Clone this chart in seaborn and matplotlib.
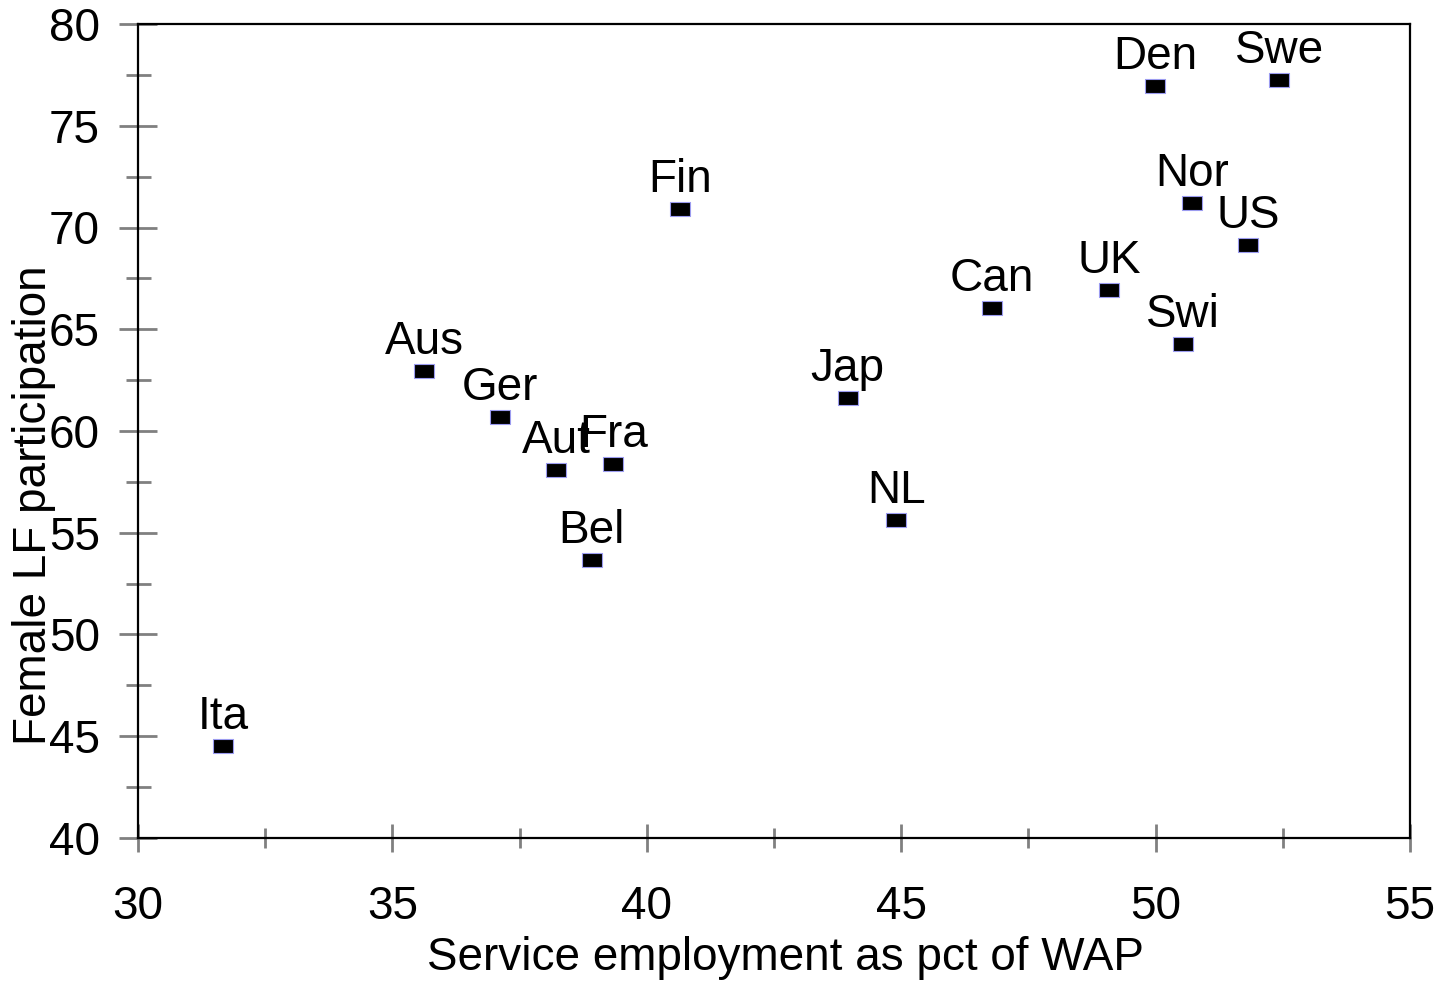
import matplotlib
matplotlib.use("Agg")
from matplotlib import pyplot as plt
from matplotlib.ticker import MultipleLocator
import pandas as pd
import seaborn as sns

# country codes and values
countries = ["Ita", "Aus", "Ger", "Aut", "Fra", "Bel", "Fin", "Jap", "NL",
             "Can", "UK", "Swi", "Den", "Swe", "Nor", "US"]
service_emp = [31.67, 35.62, 37.11, 38.22, 39.34, 38.92, 40.65, 43.95, 44.90,
               46.78, 49.08, 50.54, 49.99, 52.43, 50.72, 51.82]
female_lf = [44.52, 62.95, 60.69, 58.08, 58.38, 53.66, 70.91, 61.62, 55.63,
             66.04, 66.93, 64.28, 76.95, 77.25, 71.20, 69.14]

df = pd.DataFrame({"country": countries, "x": service_emp, "y": female_lf})

sns.set_style("white")
plt.rcParams["font.family"] = ["Liberation Sans", "DejaVu Sans"]
plt.rcParams["text.color"] = "black"
plt.rcParams["xtick.labelcolor"] = "black"
plt.rcParams["ytick.labelcolor"] = "black"
plt.rcParams["axes.labelcolor"] = "black"

fs = 33

fig = plt.figure(figsize=(14.5, 9.85), dpi=100)
ax = fig.add_axes([138 / 1450, 1 - 838 / 985, 1272 / 1450, 814 / 985])

rect = [(-1, -0.76), (1, -0.76), (1, 0.76), (-1, 0.76), (-1, -0.76)]
sns.scatterplot(data=df, x="x", y="y", ax=ax, marker=rect, s=200,
                color="black", edgecolor="#9c9cf0", linewidth=0.8, zorder=3)

for _, r in df.iterrows():
    ax.annotate(r["country"], (r["x"], r["y"]), xytext=(0, 12),
                textcoords="offset points", ha="center", va="baseline",
                fontsize=fs, color="black")

ax.set_xlim(30, 55)
ax.set_ylim(40, 80)
ax.xaxis.set_major_locator(MultipleLocator(5))
ax.xaxis.set_minor_locator(MultipleLocator(2.5))
ax.yaxis.set_major_locator(MultipleLocator(5))
ax.yaxis.set_minor_locator(MultipleLocator(2.5))

ax.tick_params(axis="y", which="major", direction="inout", length=27, width=2,
               color="#808080", labelsize=fs, pad=14, left=True)
ax.tick_params(axis="y", which="minor", direction="inout", length=18, width=2,
               color="#808080", left=True)
ax.tick_params(axis="x", which="major", direction="inout", length=20, width=2,
               color="#808080", labelsize=fs, pad=24, bottom=True)
ax.tick_params(axis="x", which="minor", direction="inout", length=14, width=2,
               color="#808080", bottom=True)

for sp in ax.spines.values():
    sp.set_color("black")
    sp.set_linewidth(1.6)

ax.set_xlabel("Service employment as pct of WAP", fontsize=fs, va="center")
ax.set_ylabel("Female LF participation", fontsize=fs, va="center", ha="center")
ax.xaxis.set_label_coords(0.509, -0.1474)
ax.yaxis.set_label_coords(-0.082, 0.409)

fig.savefig("out.png", dpi=100)
